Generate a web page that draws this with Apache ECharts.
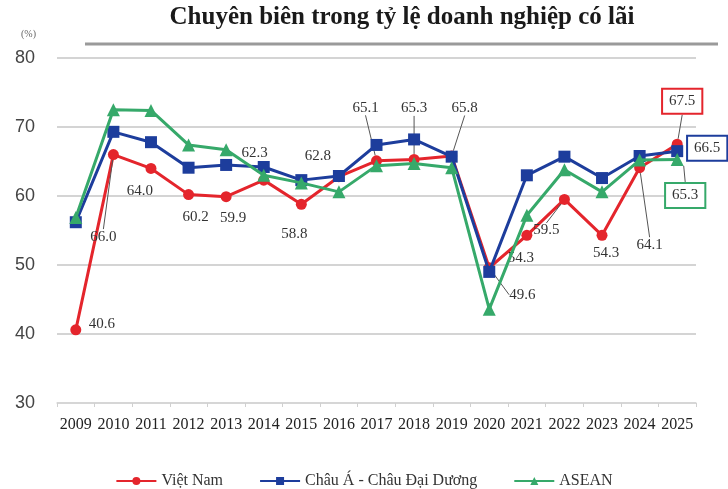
<!DOCTYPE html>
<html>
<head>
<meta charset="utf-8">
<script src="https://cdn.jsdelivr.net/npm/echarts@6/dist/echarts.min.js"></script>
<style>
  html, body { margin: 0; padding: 0; background: #fff; }
  #chart { width: 728px; height: 489px; }
</style>
</head>
<body>
<div id="chart"></div>
<script>
// Years on the category axis
const years = ['2009','2010','2011','2012','2013','2014','2015','2016','2017',
               '2018','2019','2020','2021','2022','2023','2024','2025'];

// Share of profitable enterprises (%)
const vietNam = [40.6, 66.0, 64.0, 60.2, 59.9, 62.3, 58.8, 62.8, 65.1,
                 65.3, 65.8, 49.6, 54.3, 59.5, 54.3, 64.1, 67.5];
const asiaOceania = [56.2, 69.3, 67.8, 64.1, 64.5, 64.2, 62.3, 62.9, 67.4,
                     68.2, 65.7, 49.0, 63.0, 65.7, 62.6, 65.8, 66.5];
const asean = [56.9, 72.5, 72.4, 67.4, 66.7, 63.0, 61.9, 60.6, 64.4,
               64.7, 64.1, 43.6, 57.2, 63.8, 60.6, 65.2, 65.3];

const seriesNames = ['Việt Nam', 'Châu Á - Châu Đại Dương', 'ASEAN'];
const yTicks = [30, 40, 50, 60, 70, 80];

// Label placement (offset of label centre from the point, px) for the Việt Nam series
const vnLabelOffset = [
  [26, -6], [-10, 82], [-11, 23], [7, 22], [7, 21], [-9, -27], [-7, 30], [-21, -21],
  [-11, -53], [0, -51], [13, -48], [33, 27], [-6, 23], [-18, 31], [4, 18], [10, 77], [5, -43]
];
// Indices of Việt Nam labels that carry a leader line
const vnLeader = [1, 8, 9, 10, 11, 13, 15, 16];

const RED = '#e4252c', BLUE = '#1d3d9c', GREEN = '#36a96a';
const SERIF = '"Liberation Serif", "DejaVu Serif", serif';

function placeAt(offsets) {
  return function (p) {
    const o = offsets[p.dataIndex];
    if (!o) return {};
    return {
      x: p.rect.x + p.rect.width / 2 + o[0],
      y: p.rect.y + p.rect.height / 2 + o[1],
      align: 'center',
      verticalAlign: 'middle'
    };
  };
}

const vnData = vietNam.map(function (v, i) {
  const boxed = i === vietNam.length - 1;
  return {
    value: v,
    label: boxed ? {
      borderColor: RED, borderWidth: 2, padding: [5, 6, 3, 6], backgroundColor: '#fff'
    } : {},
    labelLine: { show: vnLeader.indexOf(i) >= 0 }
  };
});

// Only the 2025 point of the two regional series is labelled, in a framed box
function lastOnly(arr, color) {
  return arr.map(function (v, i) {
    if (i !== arr.length - 1) return { value: v, label: { show: false } };
    return {
      value: v,
      label: {
        show: true, borderColor: color, borderWidth: 2, padding: [5, 6, 3, 6], backgroundColor: '#fff'
      }
    };
  });
}
const lastOffsetBlue = []; lastOffsetBlue[years.length - 1] = [30, -3];
const lastOffsetGreen = []; lastOffsetGreen[years.length - 1] = [8, 36];

const labelText = {
  show: true,
  fontFamily: SERIF,
  fontSize: 15,
  color: '#333',
  formatter: function (p) { return p.value.toFixed(1); }
};

const chart = echarts.init(document.getElementById('chart'), null, { renderer: 'canvas' });
chart.setOption({
  animation: false,
  backgroundColor: '#fff',
  title: [
    {
      text: 'Chuyên biên trong tỷ lệ doanh nghiệp có lãi',
      left: 397, top: 0, textAlign: 'center',
      textStyle: { fontFamily: SERIF, fontWeight: 'bold', fontSize: 25, color: '#1a1a1a' }
    },
    {
      text: '(%)',
      left: 16, top: 24,
      textStyle: { fontFamily: SERIF, fontWeight: 'normal', fontSize: 10, color: '#666' }
    }
  ],
  graphic: [
    {
      type: 'line',
      shape: { x1: 85, y1: 44, x2: 718, y2: 44 },
      style: { stroke: '#9a9a9a', lineWidth: 3 }
    }
  ],
  grid: { left: 57, right: 32, top: 58, bottom: 86 },
  legend: {
    top: 468,
    left: 'center',
    itemGap: 36,
    itemWidth: 40,
    itemHeight: 10,
    textStyle: { fontFamily: SERIF, fontSize: 16, color: '#333' },
    data: seriesNames
  },
  xAxis: {
    type: 'category',
    data: years,
    boundaryGap: true,
    axisLine: { lineStyle: { color: '#d6d6d6', width: 1.5 } },
    axisTick: { show: true, length: 4, lineStyle: { color: '#d0d0d0' } },
    axisLabel: { fontFamily: SERIF, fontSize: 16, color: '#222', margin: 14, interval: 0 }
  },
  yAxis: {
    type: 'value',
    min: yTicks[0],
    max: yTicks[yTicks.length - 1],
    interval: 10,
    axisLine: { show: false },
    axisTick: { show: false },
    axisLabel: { fontFamily: '"Liberation Sans", Arial, sans-serif', fontSize: 18, color: '#444', margin: 22 },
    splitLine: { lineStyle: { color: '#d4d4d4', width: 2 } }
  },
  series: [
    {
      name: seriesNames[0],
      type: 'line',
      data: vnData,
      color: RED,
      lineStyle: { width: 3 },
      symbol: 'circle',
      symbolSize: 11,
      label: labelText,
      labelLayout: placeAt(vnLabelOffset),
      labelLine: { show: true, lineStyle: { color: '#555', width: 1 } },
      z: 2
    },
    {
      name: seriesNames[1],
      type: 'line',
      data: lastOnly(asiaOceania, BLUE),
      color: BLUE,
      lineStyle: { width: 3 },
      symbol: 'rect',
      symbolSize: 12,
      label: labelText,
      labelLayout: placeAt(lastOffsetBlue),
      z: 3
    },
    {
      name: seriesNames[2],
      type: 'line',
      data: lastOnly(asean, GREEN),
      color: GREEN,
      lineStyle: { width: 3 },
      symbol: 'triangle',
      symbolSize: 13,
      label: labelText,
      labelLayout: placeAt(lastOffsetGreen),
      labelLine: { show: true, lineStyle: { color: '#555', width: 1 } },
      z: 4
    }
  ]
});
</script>
</body>
</html>
